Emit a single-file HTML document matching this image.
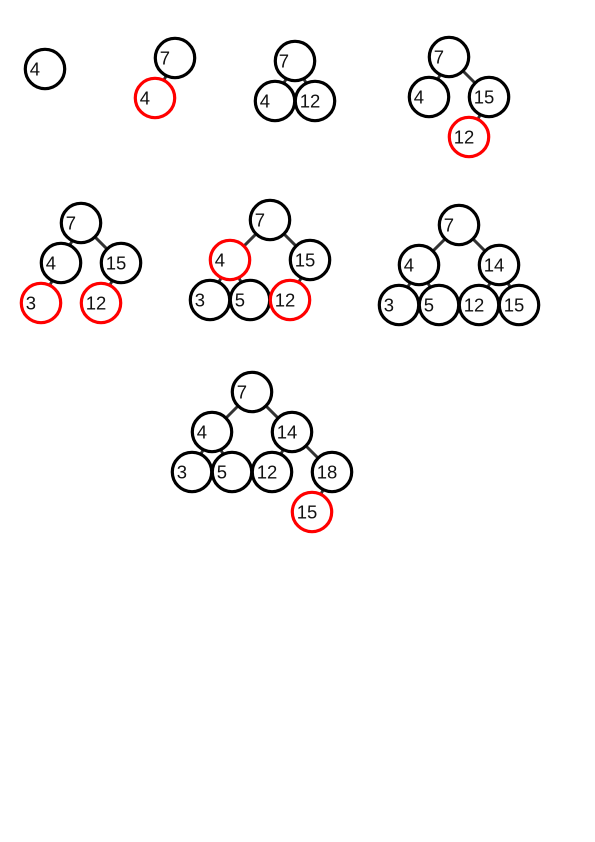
<!DOCTYPE html>
<html lang="en">
<head>
<meta charset="utf-8">
<title>Binary tree insertion steps</title>
<style>
html,body{margin:0;padding:0;background:#fff;}
svg{display:block;}
.e{stroke:#333;stroke-width:3;fill:none;}
.n{fill:#fff;stroke:#000;stroke-width:3.2;}
.r{fill:#fff;stroke:#f00;stroke-width:3.2;}
circle{r:19.7px;}
text{font-family:"Liberation Sans",sans-serif;font-size:18.5px;fill:#111;transform:translate(-0.3px,0.6px);}
</style>
</head>
<body>
<svg width="595" height="842" viewBox="0 0 595 842" xmlns="http://www.w3.org/2000/svg">
<rect width="595" height="842" fill="#fff"/>

<g>
<circle class="n" cx="45" cy="69" r="20"/>
<text x="30" y="75">4</text>
</g>

<g>
<line class="e" x1="175" y1="58" x2="155" y2="98"/>
<circle class="n" cx="175" cy="58" r="20"/>
<circle class="r" cx="155" cy="98" r="20"/>
<text x="160" y="64">7</text>
<text x="140" y="104">4</text>
</g>

<g>
<line class="e" x1="295" y1="61" x2="275" y2="101"/>
<line class="e" x1="295" y1="61" x2="315" y2="101"/>
<circle class="n" cx="295" cy="61" r="20"/>
<circle class="n" cx="275" cy="101" r="20"/>
<circle class="n" cx="315" cy="101" r="20"/>
<text x="279" y="67">7</text>
<text x="260" y="107">4</text>
<text x="300" y="107">12</text>
</g>

<g>
<line class="e" x1="449" y1="57" x2="429" y2="97"/>
<line class="e" x1="449" y1="57" x2="489" y2="97"/>
<line class="e" x1="489" y1="97" x2="469" y2="137"/>
<circle class="n" cx="449" cy="57" r="20"/>
<circle class="n" cx="429" cy="97" r="20"/>
<circle class="n" cx="489" cy="97" r="20"/>
<circle class="r" cx="469" cy="137" r="20"/>
<text x="434" y="63">7</text>
<text x="414" y="103">4</text>
<text x="474" y="103">15</text>
<text x="454" y="143">12</text>
</g>

<g>
<line class="e" x1="81" y1="223" x2="61" y2="263"/>
<line class="e" x1="81" y1="223" x2="121" y2="263"/>
<line class="e" x1="61" y1="263" x2="41" y2="303"/>
<line class="e" x1="121" y1="263" x2="101" y2="303"/>
<circle class="n" cx="81" cy="223" r="20"/>
<circle class="n" cx="61" cy="263" r="20"/>
<circle class="n" cx="121" cy="263" r="20"/>
<circle class="r" cx="41" cy="303" r="20"/>
<circle class="r" cx="101" cy="303" r="20"/>
<text x="66" y="229">7</text>
<text x="46" y="269">4</text>
<text x="106" y="269">15</text>
<text x="26" y="309">3</text>
<text x="86" y="309">12</text>
</g>

<g>
<line class="e" x1="270" y1="220" x2="230" y2="260"/>
<line class="e" x1="270" y1="220" x2="310" y2="260"/>
<line class="e" x1="230" y1="260" x2="210" y2="300"/>
<line class="e" x1="230" y1="260" x2="250" y2="300"/>
<line class="e" x1="310" y1="260" x2="290" y2="300"/>
<circle class="n" cx="270" cy="220" r="20"/>
<circle class="n" cx="310" cy="260" r="20"/>
<circle class="n" cx="210" cy="300" r="20"/>
<circle class="n" cx="250" cy="300" r="20"/>
<circle class="r" cx="230" cy="260" r="20"/>
<circle class="r" cx="290" cy="300" r="20"/>
<text x="255" y="226">7</text>
<text x="215" y="266">4</text>
<text x="295" y="266">15</text>
<text x="195" y="306">3</text>
<text x="235" y="306">5</text>
<text x="275" y="306">12</text>
</g>

<g>
<line class="e" x1="459" y1="225" x2="419" y2="265"/>
<line class="e" x1="459" y1="225" x2="499" y2="265"/>
<line class="e" x1="419" y1="265" x2="399" y2="305"/>
<line class="e" x1="419" y1="265" x2="439" y2="305"/>
<line class="e" x1="499" y1="265" x2="479" y2="305"/>
<line class="e" x1="499" y1="265" x2="519" y2="305"/>
<circle class="n" cx="459" cy="225" r="20"/>
<circle class="n" cx="419" cy="265" r="20"/>
<circle class="n" cx="499" cy="265" r="20"/>
<circle class="n" cx="399" cy="305" r="20"/>
<circle class="n" cx="439" cy="305" r="20"/>
<circle class="n" cx="479" cy="305" r="20"/>
<circle class="n" cx="519" cy="305" r="20"/>
<text x="444" y="231">7</text>
<text x="404" y="271">4</text>
<text x="484" y="271">14</text>
<text x="384" y="311">3</text>
<text x="424" y="311">5</text>
<text x="464" y="311">12</text>
<text x="504" y="311">15</text>
</g>

<g>
<line class="e" x1="252" y1="392" x2="212" y2="432"/>
<line class="e" x1="252" y1="392" x2="292" y2="432"/>
<line class="e" x1="212" y1="432" x2="192" y2="472"/>
<line class="e" x1="212" y1="432" x2="232" y2="472"/>
<line class="e" x1="292" y1="432" x2="272" y2="472"/>
<line class="e" x1="292" y1="432" x2="332" y2="472"/>
<line class="e" x1="332" y1="472" x2="312" y2="512"/>
<circle class="n" cx="252" cy="392" r="20"/>
<circle class="n" cx="212" cy="432" r="20"/>
<circle class="n" cx="292" cy="432" r="20"/>
<circle class="n" cx="192" cy="472" r="20"/>
<circle class="n" cx="232" cy="472" r="20"/>
<circle class="n" cx="272" cy="472" r="20"/>
<circle class="n" cx="332" cy="472" r="20"/>
<circle class="r" cx="312" cy="512" r="20"/>
<text x="237" y="398">7</text>
<text x="197" y="438">4</text>
<text x="277" y="438">14</text>
<text x="177" y="478">3</text>
<text x="217" y="478">5</text>
<text x="257" y="478">12</text>
<text x="317" y="478">18</text>
<text x="297" y="518">15</text>
</g>
</svg>
</body>
</html>
